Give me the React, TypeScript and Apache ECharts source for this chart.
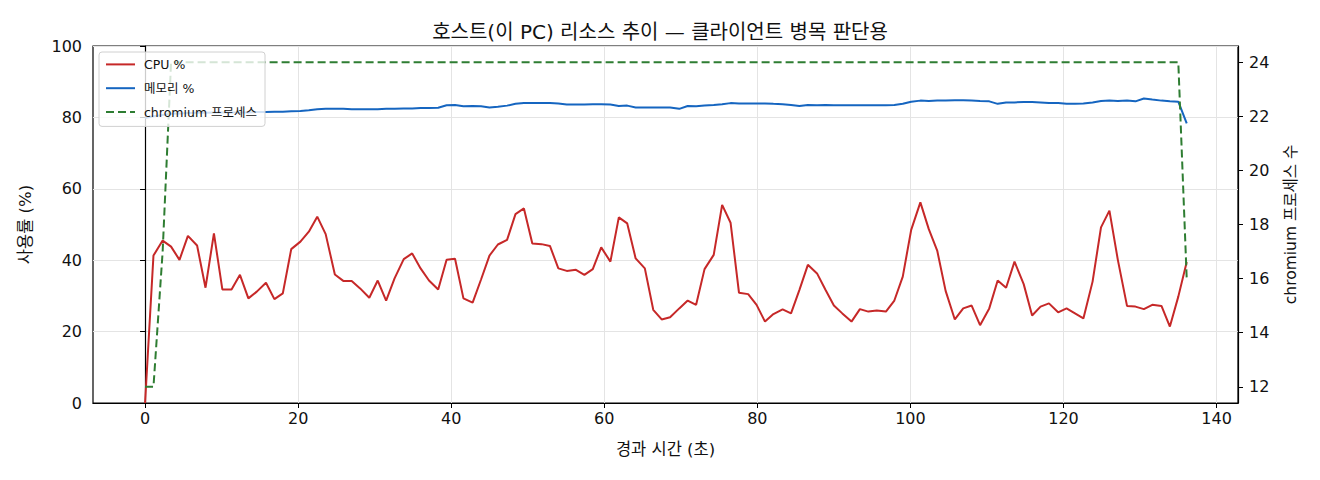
import React, { useEffect, useRef } from 'react';
import * as echarts from 'echarts';

// elapsed seconds for each sample
const times = [
  0, 1.1, 2.3, 3.4, 4.5, 5.6, 6.8, 7.9, 9.0, 10.1,
  11.3, 12.4, 13.5, 14.6, 15.8, 16.9, 18.0, 19.1, 20.3, 21.4,
  22.5, 23.6, 24.8, 25.9, 27.0, 28.1, 29.3, 30.4, 31.5, 32.6,
  33.8, 34.9, 36.0, 37.1, 38.3, 39.4, 40.5, 41.6, 42.8, 43.9,
  45.0, 46.1, 47.3, 48.4, 49.5, 50.6, 51.8, 52.9, 54.0, 55.1,
  56.3, 57.4, 58.5, 59.6, 60.8, 61.9, 63.0, 64.1, 65.3, 66.4,
  67.5, 68.6, 69.8, 70.9, 72.0, 73.1, 74.3, 75.4, 76.5, 77.6,
  78.8, 79.9, 81.0, 82.1, 83.3, 84.4, 85.5, 86.6, 87.8, 88.9,
  90.0, 91.1, 92.3, 93.4, 94.5, 95.6, 96.8, 97.9, 99.0, 100.1,
  101.3, 102.4, 103.5, 104.6, 105.8, 106.9, 108.0, 109.1, 110.3, 111.4,
  112.5, 113.6, 114.8, 115.9, 117.0, 118.1, 119.3, 120.4, 121.5, 122.6,
  123.8, 124.9, 126.0, 127.1, 128.3, 129.4, 130.5, 131.6, 132.8, 133.9,
  135.0, 136.1
];

const cpuPct = [
  0, 41.3, 45.5, 43.8, 40.1, 46.8, 44.1, 32.3, 47.5, 31.8,
  31.8, 35.9, 29.3, 31.2, 33.7, 29.1, 30.7, 43.1, 45.2, 48.0,
  52.2, 47.3, 36.0, 34.2, 34.2, 32.1, 29.5, 34.3, 28.7, 34.9,
  40.3, 41.9, 37.7, 34.3, 31.8, 40.1, 40.4, 29.3, 28.1, 34.6,
  41.3, 44.4, 45.7, 52.9, 54.5, 44.7, 44.5, 44.0, 37.7, 37.0,
  37.3, 35.9, 37.5, 43.6, 39.6, 52.0, 50.3, 40.5, 37.7, 26.1,
  23.4, 24.0, 26.5, 28.7, 27.5, 37.5, 41.5, 55.5, 50.5, 30.9,
  30.5, 27.5, 22.8, 24.9, 26.2, 25.1, 31.7, 38.7, 36.3, 31.7,
  27.3, 25.1, 22.8, 26.3, 25.6, 25.9, 25.6, 28.7, 35.4, 48.5,
  56.2, 48.7, 42.7, 31.4, 23.4, 26.5, 27.3, 21.8, 26.5, 34.3,
  32.3, 39.6, 33.3, 24.5, 27.0, 27.9, 25.4, 26.5, 25.1, 23.7,
  34.0, 49.2, 53.9, 40.1, 27.2, 27.0, 26.3, 27.5, 27.2, 21.4,
  29.8, 39.5
];

const memPct = [
  79.8, 80.3, 80.7, 81.0, 81.1, 81.2, 81.3, 81.3, 81.4, 81.4,
  81.4, 81.4, 81.4, 81.5, 81.5, 81.6, 81.6, 81.7, 81.8, 82.0,
  82.3, 82.4, 82.4, 82.4, 82.3, 82.3, 82.3, 82.3, 82.4, 82.4,
  82.5, 82.5, 82.6, 82.6, 82.7, 83.4, 83.5, 83.1, 83.2, 83.1,
  82.8, 83.0, 83.3, 83.8, 84.0, 84.0, 84.0, 84.0, 83.9, 83.6,
  83.6, 83.6, 83.7, 83.7, 83.6, 83.2, 83.3, 82.8, 82.8, 82.8,
  82.8, 82.8, 82.4, 83.2, 83.1, 83.3, 83.5, 83.7, 84.0, 83.9,
  83.9, 83.9, 83.9, 83.8, 83.7, 83.5, 83.2, 83.5, 83.4, 83.5,
  83.4, 83.4, 83.4, 83.4, 83.4, 83.4, 83.4, 83.5, 83.8, 84.4,
  84.7, 84.6, 84.7, 84.7, 84.8, 84.8, 84.7, 84.6, 84.5, 83.8,
  84.2, 84.2, 84.3, 84.3, 84.2, 84.0, 84.0, 83.8, 83.8, 83.9,
  84.2, 84.6, 84.7, 84.6, 84.7, 84.5, 85.3, 85.0, 84.7, 84.5,
  84.4, 78.3
];

const chromiumProcs = [
  12, 12, 17, 24, 24, 24, 24, 24, 24, 24,
  24, 24, 24, 24, 24, 24, 24, 24, 24, 24,
  24, 24, 24, 24, 24, 24, 24, 24, 24, 24,
  24, 24, 24, 24, 24, 24, 24, 24, 24, 24,
  24, 24, 24, 24, 24, 24, 24, 24, 24, 24,
  24, 24, 24, 24, 24, 24, 24, 24, 24, 24,
  24, 24, 24, 24, 24, 24, 24, 24, 24, 24,
  24, 24, 24, 24, 24, 24, 24, 24, 24, 24,
  24, 24, 24, 24, 24, 24, 24, 24, 24, 24,
  24, 24, 24, 24, 24, 24, 24, 24, 24, 24,
  24, 24, 24, 24, 24, 24, 24, 24, 24, 24,
  24, 24, 24, 24, 24, 24, 24, 24, 24, 24,
  24, 16
];

const xTicks = [0, 20, 40, 60, 80, 100, 120, 140];
const pctTicks = [0, 20, 40, 60, 80, 100];
const procTicks = [12, 14, 16, 18, 20, 22, 24];

// DejaVu for latin / digits, Noto CJK picks up the hangul
const FONT = '"DejaVu Sans", "Noto Sans CJK KR", sans-serif';
const INK = '#111';

const App = () => {
  const chartRef = useRef<HTMLDivElement>(null);

  useEffect(() => {
    const chart = echarts.init(chartRef.current!, null, { renderer: 'svg' });

    const pairs = (vals: number[]) => times.map((t, i) => [t, vals[i]]);

    chart.setOption({
      animation: false,
      textStyle: { fontFamily: FONT, color: INK },
      title: {
        text: '호스트(이 PC) 리소스 추이 — 클라이언트 병목 판단용',
        left: 'center',
        top: 17,
        textStyle: { fontSize: 20, fontWeight: 'normal', color: INK, fontFamily: FONT }
      },
      legend: {
        orient: 'vertical',
        left: 99,
        top: 52,
        itemWidth: 29,
        itemHeight: 16,
        itemGap: 11,
        padding: [6, 8, 8, 6],
        backgroundColor: 'rgba(255,255,255,0.8)',
        borderColor: '#d0d0d0',
        borderWidth: 1,
        borderRadius: 3,
        itemStyle: { opacity: 0 },
        textStyle: { fontSize: 12.5, color: INK, fontFamily: FONT, padding: [0, 0, 0, 4] },
        data: ['CPU %', '메모리 %', 'chromium 프로세스']
      },
      grid: {
        left: 93,
        right: 82,
        top: 46,
        bottom: 77,
        show: true,
        borderColor: '#000',
        borderWidth: 1.2,
        backgroundColor: 'transparent'
      },
      xAxis: {
        type: 'value',
        min: -6.8,
        max: 142.8,
        splitNumber: 7,
        name: '경과 시간 (초)',
        nameLocation: 'middle',
        nameGap: 38,
        nameTextStyle: { fontSize: 16.5, color: INK, fontFamily: FONT },
        axisLine: { show: true, lineStyle: { color: '#000', width: 1.2 } },
        axisTick: { show: true, length: 5, customValues: xTicks, lineStyle: { color: '#000' } },
        axisLabel: { customValues: xTicks, fontSize: 16, color: INK, margin: 7 },
        splitLine: { show: true, lineStyle: { color: '#e4e4e4', width: 1 } }
      },
      yAxis: [
        {
          type: 'value',
          min: 0,
          max: 100,
          interval: 20,
          name: '사용률 (%)',
          nameLocation: 'middle',
          nameRotate: 90,
          nameGap: 59,
          nameTextStyle: { fontSize: 16.5, color: INK, fontFamily: FONT },
          axisLine: { show: true, lineStyle: { color: '#000', width: 1.2 } },
          axisTick: { show: true, length: 5, customValues: pctTicks, lineStyle: { color: '#000' } },
          axisLabel: { customValues: pctTicks, fontSize: 16, color: INK, margin: 11 },
          splitLine: { show: true, lineStyle: { color: '#e4e4e4', width: 1 } }
        },
        {
          type: 'value',
          position: 'right',
          min: 11.4,
          max: 24.6,
          name: 'chromium 프로세스 수',
          nameLocation: 'middle',
          nameRotate: 90,
          nameGap: 45,
          nameTextStyle: { fontSize: 15.5, color: INK, fontFamily: FONT },
          axisLine: { show: true, lineStyle: { color: '#000', width: 1.2 } },
          axisTick: { show: true, length: 5, customValues: procTicks, lineStyle: { color: '#000' } },
          axisLabel: { customValues: procTicks, fontSize: 16, color: INK, margin: 11 },
          splitLine: { show: false }
        }
      ],
      series: [
        {
          name: 'CPU %',
          type: 'line',
          symbol: 'none',
          lineStyle: { color: '#c62828', width: 2 },
          itemStyle: { color: '#c62828' },
          data: pairs(cpuPct)
        },
        {
          name: '메모리 %',
          type: 'line',
          symbol: 'none',
          lineStyle: { color: '#1565c0', width: 2 },
          itemStyle: { color: '#1565c0' },
          data: pairs(memPct)
        },
        {
          name: 'chromium 프로세스',
          type: 'line',
          yAxisIndex: 1,
          symbol: 'none',
          lineStyle: { color: '#2e7d32', width: 2, type: [8, 4] },
          itemStyle: { color: '#2e7d32' },
          data: pairs(chromiumProcs)
        }
      ]
    });

    return () => {
      chart.dispose();
    };
  }, []);

  return (
    <div
      ref={chartRef}
      style={{ position: 'fixed', left: 0, top: 0, width: 1320, height: 480, background: '#fff' }}
    />
  );
};

export default App;
